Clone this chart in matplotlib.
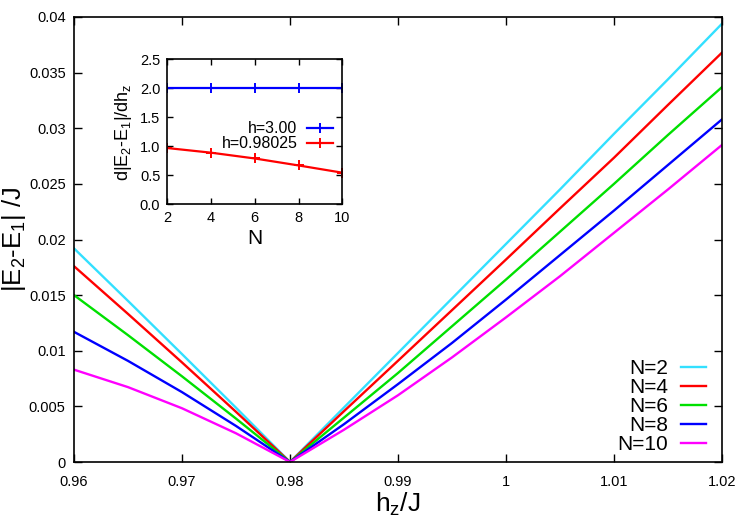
import matplotlib
matplotlib.use("Agg")
import matplotlib.pyplot as plt

plt.rcParams['font.family'] = ['Liberation Sans', 'DejaVu Sans']
plt.rcParams['mathtext.fontset'] = 'custom'
plt.rcParams['mathtext.rm'] = 'Liberation Sans'
plt.rcParams['mathtext.it'] = 'Liberation Sans'
plt.rcParams['mathtext.default'] = 'regular'

# ---- main data ----
hz = [0.96, 0.965, 0.97, 0.975, 0.98, 0.985, 0.99, 0.995, 1.0, 1.005, 1.01, 1.015, 1.02]
gap_N2 = [0.0192, 0.01448, 0.0097, 0.00488, 0.0, 0.0049, 0.0098, 0.0147, 0.0196, 0.0245, 0.0295, 0.0344, 0.0394]
gap_N4 = [0.0176, 0.01331, 0.00895, 0.00451, 0.0, 0.00457, 0.0091, 0.01365, 0.0182, 0.0228, 0.02735, 0.0321, 0.0368]
gap_N6 = [0.0150, 0.0114, 0.0077, 0.0039, 0.0, 0.00399, 0.0080, 0.0122, 0.0164, 0.0207, 0.0250, 0.0294, 0.0337]
gap_N8 = [0.0117, 0.00909, 0.00628, 0.00324, 0.0, 0.0034, 0.0070, 0.0107, 0.0146, 0.0186, 0.0226, 0.0267, 0.0308]
gap_N10 = [0.0083, 0.00673, 0.00483, 0.00258, 0.0, 0.0029, 0.0060, 0.0094, 0.0130, 0.0167, 0.0206, 0.0245, 0.0285]
series_labels = ['N=2', 'N=4', 'N=6', 'N=8', 'N=10']
series_colors = ['#33e0ff', '#ff0000', '#00e000', '#0000ff', '#ff00ff']

x_ticks = [0.96, 0.97, 0.98, 0.99, 1.0, 1.01, 1.02]
x_ticklabels = ['0.96', '0.97', '0.98', '0.99', '1', '1.01', '1.02']
y_ticks = [0, 0.005, 0.01, 0.015, 0.02, 0.025, 0.03, 0.035, 0.04]
y_ticklabels = ['0', '0.005', '0.01', '0.015', '0.02', '0.025', '0.03', '0.035', '0.04']

# ---- inset data ----
N_vals = [2, 4, 6, 8, 10]
slope_h300 = [2.0, 2.0, 2.0, 2.0, 2.0]
slope_h098025 = [0.97, 0.89, 0.79, 0.67, 0.545]
inset_labels = ['h=3.00', 'h=0.98025']
inset_colors = ['#0000ff', '#ff0000']

fig = plt.figure(figsize=(7.5, 5.25), dpi=100)
ax = fig.add_axes([74/750, 1-462/525, (722-74)/750, (462-17)/525])

for ys, lab, col in zip([gap_N2, gap_N4, gap_N6, gap_N8, gap_N10], series_labels, series_colors):
    ax.plot(hz, ys, color=col, lw=1.7, label=lab, solid_joinstyle='round')

ax.set_xlim(0.96, 1.02)
ax.set_ylim(0, 0.04)
ax.set_xticks(x_ticks)
ax.set_xticklabels(x_ticklabels)
ax.set_yticks(y_ticks)
ax.set_yticklabels(y_ticklabels)
ax.tick_params(direction='in', top=True, right=True, length=6, width=1, labelsize=10.5)
ax.tick_params(axis='x', pad=9)
ax.tick_params(axis='y', pad=6)
for s in ax.spines.values():
    s.set_linewidth(1.2)
ax.set_xlabel('h$_z$/J', fontsize=19, labelpad=2)
ax.set_ylabel('|E$_2$-E$_1$| /J', fontsize=18.5)
ax.yaxis.set_label_coords((28-74)/648, 0.5)

leg = ax.legend(loc='lower right', frameon=False, markerfirst=False, fontsize=15,
                handlelength=1.2, handletextpad=0.6, labelspacing=0.0,
                borderpad=0.0, borderaxespad=0.0,
                bbox_to_anchor=(0.975, 0.018))

# ---- inset ----
ins = fig.add_axes([167.3/750, 1-204.3/525, 175/750, 145/525])
ins.plot(N_vals, slope_h300, color=inset_colors[0], lw=1.6, marker='+', ms=7, mew=1.4, label=inset_labels[0])
ins.plot(N_vals, slope_h098025, color=inset_colors[1], lw=1.6, marker='+', ms=7, mew=1.4, label=inset_labels[1])
ins.set_xlim(2, 10)
ins.set_ylim(0, 2.5)
ins.set_xticks([2, 4, 6, 8, 10])
ins.set_yticks([0.0, 0.5, 1.0, 1.5, 2.0, 2.5])
ins.set_yticklabels(['0.0', '0.5', '1.0', '1.5', '2.0', '2.5'])
ins.tick_params(direction='in', top=True, right=True, length=4, width=1, labelsize=10.5, pad=5)
for s in ins.spines.values():
    s.set_linewidth(1.2)
ins.set_xlabel('N', fontsize=15, labelpad=3)
ins.set_ylabel('d|E$_2$-E$_1$|/dh$_z$', fontsize=13, labelpad=4)
ins.legend(loc='center right', frameon=False, markerfirst=False, fontsize=11.5,
           handlelength=1.6, handletextpad=0.6, labelspacing=0.0,
           bbox_to_anchor=(1.0, 0.47), borderaxespad=0.2)

fig.savefig('out.png', dpi=100)
